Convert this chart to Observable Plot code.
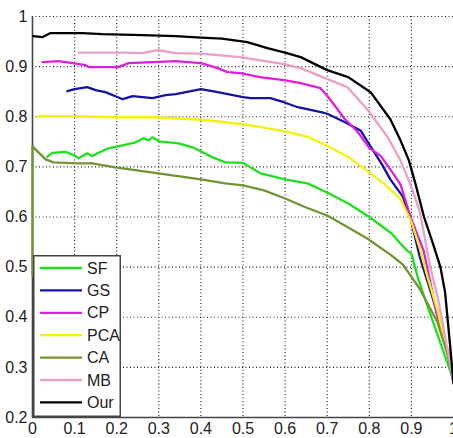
<!DOCTYPE html>
<html>
<head>
<meta charset="utf-8">
<script src="https://cdn.jsdelivr.net/npm/d3@7"></script>
<script src="https://cdn.jsdelivr.net/npm/@observablehq/plot@0.6"></script>
<style>
  html, body { margin: 0; padding: 0; background: #fff; }
  #wrap { position: relative; width: 453px; height: 438px; overflow: hidden; }
  #legend { position: absolute; left: 33px; top: 255px; }
</style>
</head>
<body>
<div id="wrap"></div>
<script>
// ---- data (recall x, precision y) ----
const seriesNames = ["SF", "GS", "CP", "PCA", "CA", "MB", "Our"];
const seriesColors = ["#1fe01f", "#1414a0", "#e01ee0", "#f2f20a", "#6f9534", "#ec9fc6", "#000000"];

const sfX = [0.035,0.047,0.078,0.10,0.109,0.13,0.142,0.154,0.18,0.214,0.245,0.264,0.276,0.285,0.30,0.347,0.38,0.404,0.428,0.458,0.50,0.542,0.60,0.653,0.70,0.75,0.80,0.853,0.874,0.89,0.90,0.915,0.935,0.96,0.985,1.0];
const sfY = [0.72,0.728,0.73,0.723,0.717,0.727,0.721,0.727,0.737,0.743,0.749,0.757,0.753,0.759,0.751,0.747,0.739,0.729,0.719,0.709,0.708,0.687,0.675,0.667,0.649,0.627,0.60,0.567,0.547,0.533,0.527,0.48,0.43,0.37,0.31,0.275];

const gsX = [0.083,0.10,0.13,0.15,0.173,0.197,0.214,0.238,0.285,0.316,0.34,0.40,0.44,0.50,0.518,0.565,0.597,0.63,0.691,0.70,0.74,0.78,0.80,0.83,0.85,0.88,0.90,0.92,0.95,0.985,1.0];
const gsY = [0.851,0.855,0.859,0.853,0.849,0.841,0.835,0.841,0.837,0.843,0.845,0.855,0.849,0.839,0.837,0.837,0.829,0.819,0.808,0.806,0.79,0.772,0.745,0.705,0.675,0.64,0.59,0.52,0.44,0.335,0.27];

const cpX = [0.024,0.062,0.095,0.126,0.133,0.204,0.228,0.285,0.34,0.40,0.44,0.463,0.494,0.54,0.597,0.637,0.684,0.70,0.72,0.74,0.772,0.80,0.827,0.85,0.874,0.898,0.929,0.962,0.986,1.0];
const cpY = [0.909,0.911,0.907,0.903,0.899,0.899,0.907,0.909,0.911,0.907,0.897,0.889,0.887,0.879,0.873,0.867,0.857,0.842,0.82,0.797,0.77,0.738,0.722,0.695,0.665,0.60,0.533,0.40,0.334,0.27];

const pcaX = [0.014,0.10,0.20,0.28,0.34,0.40,0.45,0.518,0.60,0.653,0.70,0.751,0.795,0.834,0.874,0.90,0.921,0.94,0.962,0.985,1.0];
const pcaY = [0.801,0.801,0.799,0.799,0.797,0.794,0.79,0.783,0.771,0.76,0.742,0.719,0.692,0.667,0.636,0.59,0.535,0.475,0.414,0.33,0.275];

const caX = [0,0,0.031,0.05,0.107,0.142,0.197,0.299,0.40,0.458,0.50,0.55,0.60,0.65,0.70,0.75,0.795,0.85,0.88,0.921,0.962,0.986,1.0];
const caY = [0.483,0.741,0.715,0.709,0.707,0.707,0.699,0.687,0.675,0.667,0.663,0.653,0.637,0.619,0.603,0.579,0.557,0.525,0.505,0.455,0.39,0.325,0.28];

const mbX = [0.11,0.22,0.261,0.297,0.34,0.40,0.494,0.597,0.637,0.692,0.748,0.795,0.843,0.874,0.90,0.92,0.945,0.965,0.986,1.0];
const mbY = [0.928,0.928,0.927,0.933,0.927,0.926,0.919,0.905,0.897,0.878,0.859,0.815,0.76,0.713,0.66,0.61,0.5,0.43,0.334,0.275];

const ourX = [0.002,0.024,0.043,0.119,0.166,0.261,0.34,0.40,0.45,0.51,0.558,0.60,0.637,0.70,0.75,0.803,0.85,0.874,0.894,0.91,0.93,0.95,0.969,0.98,0.993,1.0];
const ourY = [0.961,0.959,0.967,0.967,0.965,0.963,0.961,0.958,0.956,0.949,0.937,0.928,0.919,0.893,0.879,0.849,0.795,0.753,0.713,0.665,0.60,0.55,0.50,0.45,0.334,0.268];

const xTicks = [0,0.1,0.2,0.3,0.4,0.5,0.6,0.7,0.8,0.9,1];
const yTicks = [0.2,0.3,0.4,0.5,0.6,0.7,0.8,0.9,1];

// ---- build table ----
const seriesXY = [[sfX,sfY],[gsX,gsY],[cpX,cpY],[pcaX,pcaY],[caX,caY],[mbX,mbY],[ourX,ourY]];
const rows = seriesXY.flatMap(([xs, ys], k) => xs.map((x, i) => ({name: seriesNames[k], x, y: ys[i]})));

const fontFam = "'Liberation Sans Narrow', 'Arial Narrow', 'Liberation Sans', sans-serif";
const fmt = d => String(+d.toFixed(1));

const chart = Plot.plot({
  width: 453,
  height: 438,
  marginLeft: 32,
  marginRight: 0,
  marginTop: 16,
  marginBottom: 21,
  style: {fontFamily: fontFam, fontSize: "16px", background: "#fff", overflow: "visible"},
  x: {domain: [0, 1], ticks: xTicks},
  y: {domain: [0.2, 1], ticks: yTicks},
  color: {domain: seriesNames, range: seriesColors},
  marks: [
    Plot.gridX(xTicks.filter(d => d > 0 && d < 1), {stroke: "#000", strokeOpacity: 0.85, strokeDasharray: "1,2.5", strokeWidth: 1.2}),
    Plot.gridY(yTicks.filter(d => d > 0.2), {stroke: "#000", strokeOpacity: 0.85, strokeDasharray: "1,2.5", strokeWidth: 1.2}),
    Plot.axisX(xTicks, {tickSize: 0, tickPadding: 5, tickFormat: fmt, fontSize: 16, fill: "#222", label: null}),
    Plot.axisY(yTicks, {tickSize: 0, tickPadding: 5, tickFormat: fmt, fontSize: 16, fill: "#222", label: null}),
    Plot.ruleX([0], {stroke: "#444", strokeWidth: 1.6}),
    Plot.ruleY([0.2], {stroke: "#444", strokeWidth: 1.6}),
    Plot.line(rows, {x: "x", y: "y", z: "name", stroke: "name", strokeWidth: 2.3, strokeLinejoin: "round"})
  ]
});
document.getElementById("wrap").appendChild(chart);

// ---- legend (inside plot, bottom-left) ----
const lw = 88, lh = 162, step = 22.4, top0 = 13;
const leg = d3.create("svg").attr("id", "legend").attr("width", lw).attr("height", lh);
leg.append("rect").attr("x", 0.75).attr("y", 0.75).attr("width", lw - 1.5).attr("height", lh - 1.5)
  .attr("fill", "#fff").attr("stroke", "#444").attr("stroke-width", 1.5);
const g = leg.selectAll("g").data(seriesNames).join("g")
  .attr("transform", (d, i) => `translate(0,${top0 + i * step})`);
g.append("line").attr("x1", 7).attr("x2", 49).attr("y1", 0).attr("y2", 0)
  .attr("stroke", (d, i) => seriesColors[i]).attr("stroke-width", 2.3);
g.append("text").attr("x", 54).attr("y", 0).attr("dy", "0.35em")
  .attr("font-family", fontFam).attr("font-size", 16).attr("fill", "#222").text(d => d);
document.getElementById("wrap").appendChild(leg.node());
</script>
</body>
</html>
